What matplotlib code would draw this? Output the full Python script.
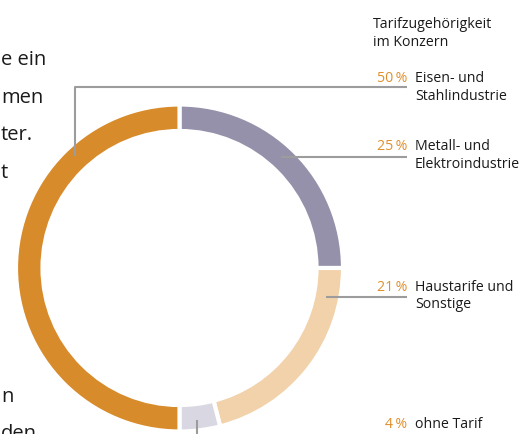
import matplotlib
matplotlib.use("Agg")
import matplotlib.pyplot as plt

# Data (clockwise from 12 o'clock)
categories = [["Metall- und", "Elektroindustrie"], ["Haustarife und", "Sonstige"],
              ["ohne Tarif"], ["Eisen- und", "Stahlindustrie"]]
values = [25, 21, 4, 50]
colors = ["#9591aa", "#f1d2aa", "#d9d7e1", "#d88b2a"]
title_lines = ["Tarifzugehörigkeit", "im Konzern"]
side_text = ["e ein", "men", "ter.", "t", "n", "den"]

W, H = 525, 435
fig = plt.figure(figsize=(W / 100, H / 100), dpi=100)
ax = fig.add_axes([0, 0, 1, 1])

def Y(y):
    return H - y

cx, cy, R, ring = 179.5, 269.0, 163.5, 26.5
ax.pie(values, colors=colors, startangle=90, counterclock=False, radius=R,
       center=(cx, Y(cy)),
       wedgeprops=dict(width=ring, edgecolor="white", linewidth=3.0))
ax.set_xlim(0, W)
ax.set_ylim(0, H)
ax.set_aspect("auto")
ax.axis("off")

FONT = "Open Sans"
lc = "#9c9c9c"
pc = "#e08f2c"
tc = "#1a1a1a"
fs = 10.2
lh = 17.5

# Title
for i, t in enumerate(title_lines):
    ax.text(373, Y(28 + i * lh), t, fontsize=fs, family=FONT, color=tc,
            va="baseline", ha="left")

# Label positions: baseline y of first line per data index
label_layout = {3: 82, 0: 150, 1: 291, 2: 428}
for idx, by in label_layout.items():
    ax.text(407, Y(by), f"{values[idx]}\u2009%", fontsize=fs, family=FONT,
            color=pc, ha="right", va="baseline")
    for j, line in enumerate(categories[idx]):
        ax.text(415, Y(by + j * lh), line, fontsize=fs, family=FONT, color=tc,
                ha="left", va="baseline")

# Leader lines
lw = 1.5
ax.plot([75, 75, 407], [Y(157), Y(87.5), Y(87.5)], color=lc, lw=lw, solid_capstyle="butt")
ax.plot([281, 407], [Y(158), Y(158)], color=lc, lw=lw, solid_capstyle="butt")
ax.plot([326, 407], [Y(298), Y(298)], color=lc, lw=lw, solid_capstyle="butt")
ax.plot([197, 197], [Y(421), Y(436)], color=lc, lw=lw, solid_capstyle="butt")

# Cropped body text on the left
side_y = [65, 103, 140, 178, 402, 439]
for s, y in zip(side_text, side_y):
    ax.text(1, Y(y), s, fontsize=14.5, family=FONT, color=tc, ha="left", va="baseline")

fig.savefig("out.png", dpi=100)
